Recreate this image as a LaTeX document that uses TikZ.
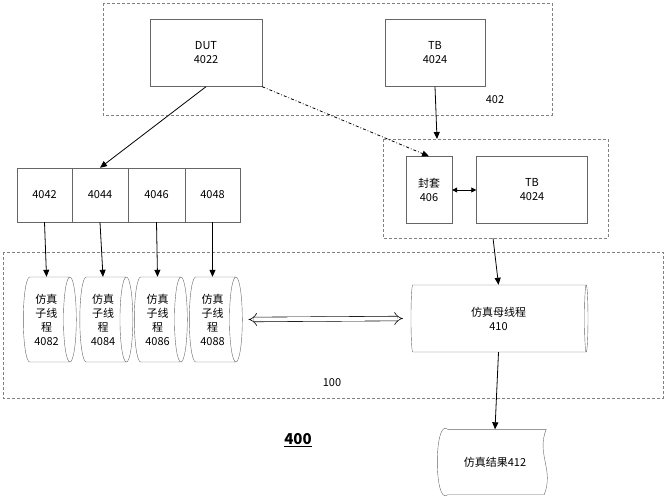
\documentclass[tikz,border=0pt]{standalone}
\usepackage{fontspec}
\setmainfont{Noto Sans CJK SC}
\usetikzlibrary{arrows.meta,shapes.geometric,positioning}

\begin{document}
\begin{tikzpicture}[
        x=1pt, y=-1pt,
        every node/.style={align=center, font=\fontsize{11}{14}\selectfont},
        box/.style={draw, gray!80!black, text=black, inner sep=0pt},
        group/.style={draw, gray, densely dashed, thin},
        thread/.style={draw, gray!80!black, text=black, shape=cylinder, shape aspect=.25,
            minimum width=85pt, minimum height=53pt, inner sep=0pt, shape border rotate=0},
        link/.style={-{Triangle[length=7pt,width=6pt]}, thick}
    ]
    \useasboundingbox (0,0) rectangle (666,500);

    % Groups
    \draw[group] (103,3) rectangle (552,115);
    \node at (495,100) {402};
    \draw[group] (383,139) rectangle (608,238);
    \draw[group] (3,252) rectangle (663,398);
    \node at (332,383) {100};

    % Nodes
    \node (dut)[box, minimum width=112pt, minimum height=67pt] at (206,53) {DUT\\4022};
    \node (tb)[box, minimum width=100pt, minimum height=67pt] at (435,53) {TB\\4024};
    \coordinate (wraptop) at (437,139);
    \coordinate (wrapbot) at (493,238);
    \node (wrap)[box, minimum width=46pt, minimum height=67pt] at (429,190) {封套\\406};
    \node (tbin)[box, minimum width=111pt, minimum height=67pt] at (532,190) {TB\\4024};

    \foreach \n/\x/\w in {4042/44.5/55, 4044/100/56, 4046/156.5/57, 4048/212.5/55} {
        \node (m\n)[box, minimum width=\w pt, minimum height=54pt] at (\x,195) {\n};
    }
    \foreach \n/\x in {4082/46.5, 4084/103, 4086/157.5, 4088/212.5} {
        \node (t\n)[thread] at (\x,319.5) {仿真\\子线\\程\\\n};
    }
    \node (main)[thread, minimum width=67pt, minimum height=177pt, shape aspect=.15] at (498.5,318.5) {仿真母线程\\410};

    \node (res)[minimum width=110pt, minimum height=65pt] at (495,462) {仿真结果412};
    \draw[gray!80!black] ([xshift=8pt]res.north west) -- ([xshift=-4pt]res.north east)
        .. controls ([xshift=-14pt,yshift=-25pt]res.north east) and ([xshift=4pt,yshift=25pt]res.south east) .. ([xshift=-6pt]res.south east)
        -- ([xshift=8pt]res.south west)
        .. controls ([xshift=-6pt,yshift=-12pt]res.south west) and ([xshift=-6pt,yshift=12pt]res.north west) .. ([xshift=8pt]res.north west);

    \node (label)[font=\bfseries\fontsize{15}{18}\selectfont] at (298,440) {\underline{400}};

    % Edges
    \draw[link] (dut.south) -- (m4044.north);
    \draw[link, dash dot] (dut.south east) -- (wrap.north);
    \draw[link] (tb.south) -- (wraptop);
    \draw[{Triangle[length=5pt,width=5pt]}-{Triangle[length=5pt,width=5pt]}, thick] (wrap) -- (tbin);
    \foreach \a/\b in {4042/4082, 4044/4084, 4046/4086, 4048/4088} {
        \draw[link] (m\a.south) -- (t\b.north);
    }
    \draw[link] (wrapbot) -- (main.north);
    \draw[link] (main.south) -- (res.north);
    \draw[{Implies}-{Implies}, double, double distance=4pt, semithick] ([xshift=6pt]t4088.east) -- ([xshift=-8pt]main.west);
\end{tikzpicture}
\end{document}
